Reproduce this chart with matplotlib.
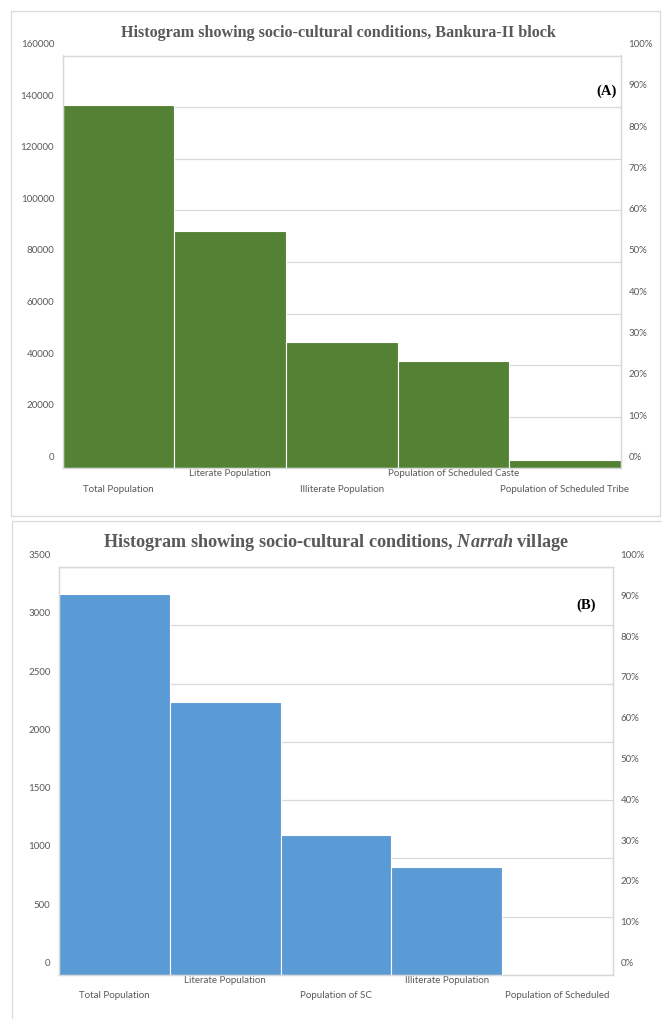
import matplotlib
matplotlib.use("Agg")
import matplotlib.pyplot as plt
from matplotlib.patches import Rectangle
from matplotlib.transforms import ScaledTranslation
from matplotlib.ticker import FixedLocator, FuncFormatter

# ---------------- data ----------------
cats_a = ["Total Population", "Literate Population", "Illiterate Population",
          "Population of Scheduled Caste", "Population of Scheduled Tribe"]
vals_a = [140700, 91800, 48900, 41600, 3400]
yticks_a = [0, 20000, 40000, 60000, 80000, 100000, 120000, 140000, 160000]

cats_b = ["Total Population", "Literate Population", "Population of SC",
          "Illiterate Population", "Population of Scheduled"]
vals_b = [3270, 2340, 1205, 928, 0]
yticks_b = [0, 500, 1000, 1500, 2000, 2500, 3000, 3500]

pct_ticks = [0.0, 0.1, 0.2, 0.3, 0.4, 0.5, 0.6, 0.7, 0.8, 0.9, 1.0]

title_a = "Histogram showing socio-cultural conditions, Bankura-II block"
title_b = r"Histogram showing socio-cultural conditions, $\mathbfit{Narrah}$ village"

W, H, DPI = 662, 1019, 100
fig = plt.figure(figsize=(W / DPI, H / DPI), dpi=DPI)
fig.patch.set_facecolor("white")

GRAY = "#595959"
LINE = "#D9D9D9"
TICKFONT = "Lato"
plt.rcParams["mathtext.fontset"] = "custom"
plt.rcParams["mathtext.bfit"] = "Liberation Serif:bold:italic"
plt.rcParams["mathtext.rm"] = "Liberation Serif:bold"


def px_box(l, t, r, b):
    return [l / W, 1 - b / H, (r - l) / W, (b - t) / H]


def make_panel(box, cats, vals, yticks, color, label_off_px, tag, tag_xy,
               title, title_xy, title_size):
    ax = fig.add_axes(px_box(*box))
    n = len(cats)
    xs = list(range(n))
    ax.bar(xs, vals, width=1.0, color=color, edgecolor="white",
           linewidth=0.8, zorder=2)
    ax.set_xlim(-0.5, n - 0.5)
    ax.set_ylim(yticks[0], yticks[-1])
    ax.yaxis.set_major_locator(FixedLocator(yticks))
    ax.set_yticklabels([str(v) for v in yticks])
    ax.set_axisbelow(True)
    ax.grid(axis="y", color=LINE, linewidth=0.9, zorder=0)
    for s in ax.spines.values():
        s.set_color(LINE)
        s.set_linewidth(0.9)
    ax.tick_params(axis="y", length=0, pad=6.2, labelsize=7, labelcolor=GRAY)
    ax.set_xticks(xs)
    ax.set_xticklabels(cats)
    ax.tick_params(axis="x", length=0, labelsize=7, labelcolor=GRAY)
    for lab in ax.get_yticklabels() + ax.get_xticklabels():
        lab.set_fontfamily(TICKFONT)

    ax2 = ax.twinx()
    ax2.set_ylim(0, 1)
    ax2.yaxis.set_major_locator(FixedLocator(pct_ticks))
    ax2.yaxis.set_major_formatter(FuncFormatter(lambda v, p: f"{v:.0%}"))
    ax2.tick_params(axis="y", length=0, pad=5.5, labelsize=7, labelcolor=GRAY)
    for s in ax2.spines.values():
        s.set_color(LINE)
        s.set_linewidth(0.9)
    for lab in ax2.get_yticklabels():
        lab.set_fontfamily(TICKFONT)

    # staggered category labels
    for i, tk in enumerate(ax.xaxis.get_major_ticks()):
        tk.set_pad(0.8 if i % 2 else 11.8)

    # Excel-like upward shift of value-axis labels
    off = ScaledTranslation(0, label_off_px / DPI, fig.dpi_scale_trans)
    for lab in ax.get_yticklabels() + ax2.get_yticklabels():
        lab.set_transform(lab.get_transform() + off)

    fig.text(tag_xy[0] / W, 1 - tag_xy[1] / H, tag, fontsize=10.5,
             fontweight="bold", family="Liberation Serif", color="black",
             ha="center", va="center")
    fig.text(title_xy[0] / W, 1 - title_xy[1] / H, title, fontsize=title_size,
             fontweight="bold", family="Liberation Serif", color=GRAY,
             ha="center", va="baseline")
    return ax


# panel borders
fig.add_artist(Rectangle((10.5 / W, 1 - 516 / H), (660 - 10.5) / W, (516 - 11) / H,
                         transform=fig.transFigure, fill=False,
                         edgecolor=LINE, linewidth=0.9))
fig.add_artist(Rectangle((12 / W, 1 - 1030 / H), (670 - 12) / W, (1030 - 520.5) / H,
                         transform=fig.transFigure, fill=False,
                         edgecolor=LINE, linewidth=0.9))

make_panel((62.7, 55.5, 620.8, 468.3), cats_a, vals_a, yticks_a, "#548235",
           12, "(A)", (606.5, 91.5), title_a, (338, 36.5), 11.65)
make_panel((59, 567, 613, 975), cats_b, vals_b, yticks_b, "#5B9BD5",
           12.5, "(B)", (586.5, 605), title_b, (336, 547), 13.1)

fig.savefig("out.png", dpi=DPI, facecolor="white")
